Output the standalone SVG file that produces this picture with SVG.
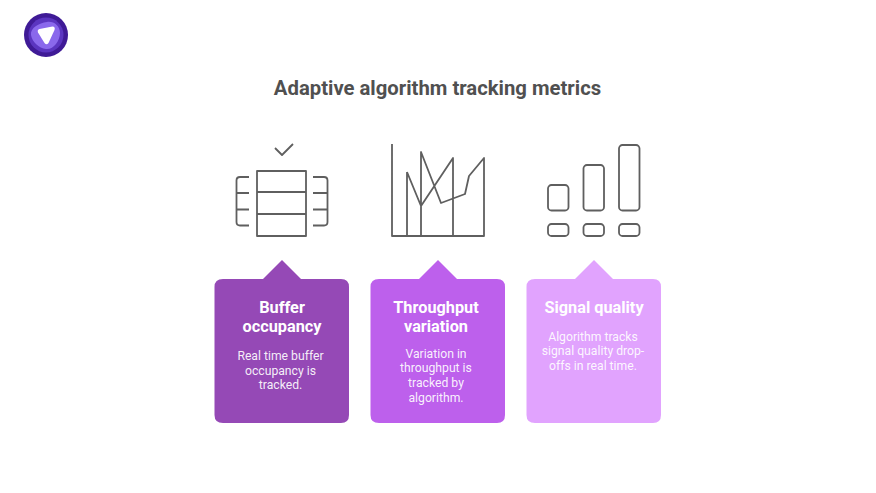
<svg xmlns="http://www.w3.org/2000/svg" width="876" height="493" viewBox="0 0 876 493">
<style>
text{font-family:Roboto,"Liberation Sans",sans-serif;text-anchor:middle}
.t{font-size:16.3px;font-weight:700;fill:#fff}
.b{font-size:12.2px;fill:#fff;fill-opacity:.92}
.i{fill:none;stroke:#5f5f5f;stroke-width:1.8;stroke-linejoin:round}
</style>
<rect width="876" height="493" fill="#fff"/>
<g id="logo">
<circle cx="46" cy="35" r="22" fill="#3f1a96"/>
<circle cx="46" cy="35" r="17.500" fill="#5b35c0"/>
<path d="M47 22C54 21 60 26 60 33C60 41 53 50 46 49C39 48 32 42 31 35C30 28 39 23 47 22Z" fill="#8a68ec"/>
<path d="M39.500 29Q37 29.500 38 32.500L44.500 43Q46.500 45.500 48.500 43L54.500 30Q55.500 26.500 52.500 26.500Z" fill="#fff"/>
</g>
<text id="title" x="437.500" y="94.500" fill="#505050" style="font-size:20.3px;font-weight:700">Adaptive algorithm tracking metrics</text>
<g id="icon-buffer" class="i">
<path d="M275 148L282 155L293 144"/>
<rect x="257" y="171" width="49" height="65"/>
<path d="M257 192H306M257 214H306"/>
<path d="M249 177H240Q236.500 177 236.500 180.500V222Q236.500 225.500 240 225.500H249M236.500 193H249M236.500 209.500H249"/>
<path d="M313 177H324Q327.500 177 327.500 180.500V222Q327.500 225.500 324 225.500H313M313 193H327.500M313 209.500H327.500"/>
</g>
<g id="icon-throughput" class="i">
<path d="M392 144V236H484V158L469 176L465 194L441 203L421 152V236M407 172V236M407 172L421 206L453 158V236"/>
</g>
<g id="icon-signal" class="i">
<rect x="548" y="185" width="20.500" height="25.500" rx="3.500"/>
<rect x="583.500" y="165" width="20.500" height="45.500" rx="3.500"/>
<rect x="619" y="145" width="20.500" height="65.500" rx="3.500"/>
<rect x="548" y="224" width="20.500" height="12" rx="3.500"/>
<rect x="583.500" y="224" width="20.500" height="12" rx="3.500"/>
<rect x="619" y="224" width="20.500" height="12" rx="3.500"/>
</g>
<g id="card-buffer">
<path d="M263 279L282 260L301 279H341Q349 279 349 287V415Q349 423 341 423H223Q214.500 423 214.500 415V287Q214.500 279 223 279Z" fill="#9549b6"/>
<text class="t" x="282" y="313">Buffer</text>
<text class="t" x="282" y="332">occupancy</text>
<text class="b" x="280.500" y="360">Real time buffer</text>
<text class="b" x="280.500" y="375">occupancy is</text>
<text class="b" x="280.500" y="389">tracked.</text>
</g>
<g id="card-throughput">
<path d="M419 279L438 260L457 279H497Q505 279 505 287V415Q505 423 497 423H379Q370.500 423 370.500 415V287Q370.500 279 379 279Z" fill="#bd60ec"/>
<text class="t" x="436" y="313">Throughput</text>
<text class="t" x="436" y="332">variation</text>
<text class="b" x="436" y="358">Variation in</text>
<text class="b" x="436" y="372">throughput is</text>
<text class="b" x="436" y="387">tracked by</text>
<text class="b" x="436" y="402">algorithm.</text>
</g>
<g id="card-signal">
<path d="M575 279L594 260L613 279H653Q661 279 661 287V415Q661 423 653 423H535Q526.500 423 526.500 415V287Q526.500 279 535 279Z" fill="#e1a3fe"/>
<text class="t" x="594" y="313">Signal quality</text>
<text class="b" x="593" y="341">Algorithm tracks</text>
<text class="b" x="593" y="355">signal quality drop-</text>
<text class="b" x="593" y="370">offs in real time.</text>
</g>
</svg>
